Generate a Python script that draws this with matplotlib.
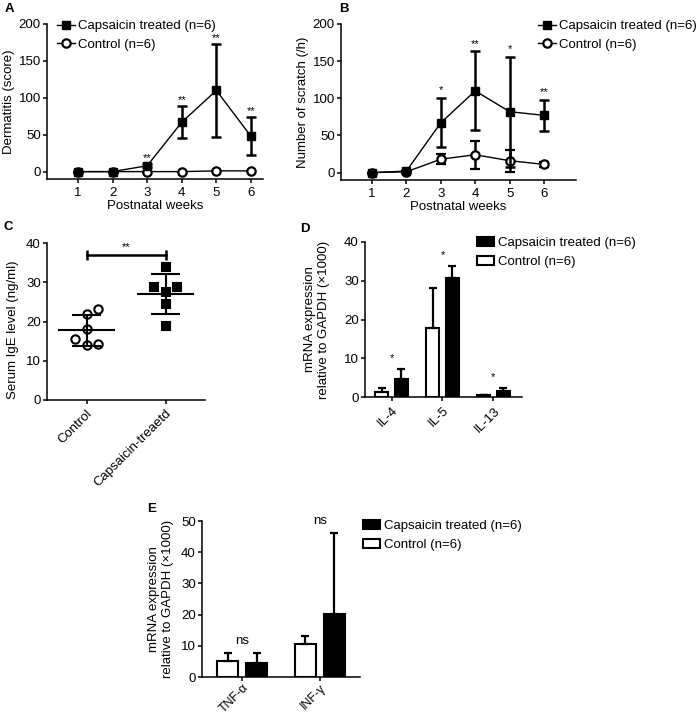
import numpy as np
import matplotlib
matplotlib.use("Agg")
import matplotlib.pyplot as plt
from matplotlib.patches import Patch
from matplotlib.lines import Line2D

plt.rcParams['font.family'] = ['Liberation Sans', 'DejaVu Sans']
plt.rcParams['font.size'] = 9.5
plt.rcParams['axes.linewidth'] = 1.1
plt.rcParams['xtick.major.width'] = 1.1
plt.rcParams['ytick.major.width'] = 1.1
plt.rcParams['xtick.major.size'] = 3
plt.rcParams['ytick.major.size'] = 3
plt.rcParams['xtick.major.pad'] = 2.5
plt.rcParams['ytick.major.pad'] = 1.5

# ---- data ----
weeks = [1, 2, 3, 4, 5, 6]

# A: dermatitis score
derm_cap = [0, 0, 8, 67, 110, 48]
derm_cap_err = [0, 0, 2, 22, 63, 26]
derm_ctrl = [0, 0, 0, 0, 1, 1]
derm_ctrl_err = [0, 0, 0, 0, 0, 0]
derm_stars = ["", "", "**", "**", "**", "**"]

# B: scratch number
scr_cap = [0, 2, 67, 110, 82, 77]
scr_cap_err = [0, 1, 33, 53, 74, 21]
scr_ctrl = [0, 1, 18, 24, 16, 11]
scr_ctrl_err = [0, 0.5, 6.5, 19, 15, 3.5]
scr_stars = ["", "", "*", "**", "*", "**"]

# C: serum IgE
ige_groups = ["Control", "Capsaicin-treaetd"]
ige_ctrl = [21.8, 23.3, 18.0, 15.5, 14.0, 14.2]
ige_cap = [33.8, 28.9, 28.9, 27.4, 24.4, 18.8]
ige_ctrl_jit = [0, 0.15, 0, -0.15, 0, 0.15]
ige_cap_jit = [0, -0.15, 0.15, 0, 0, 0]

# D: Th2 cytokines
th2_names = ["IL-4", "IL-5", "IL-13"]
th2_ctrl = [1.4, 17.9, 0.4]
th2_ctrl_sd = [0.9, 10.3, 0.1]
th2_cap = [4.6, 30.6, 1.6]
th2_cap_sd = [2.7, 3.2, 0.7]
th2_stars = ["*", "*", "*"]

# E: Th1 cytokines
th1_names = ["TNF-α", "INF-γ"]
th1_ctrl = [5.1, 10.5]
th1_ctrl_sd = [2.7, 2.6]
th1_cap = [4.5, 20.1]
th1_cap_sd = [3.3, 26.2]
th1_stars = ["ns", "ns"]

lab_cap = "Capsaicin treated (n=6)"
lab_ctrl = "Control (n=6)"

W, H = 699, 714
fig = plt.figure(figsize=(W / 100, H / 100), dpi=100)


def box(l, t, r, b):
    return [l / W, 1 - b / H, (r - l) / W, (b - t) / H]


def style(ax):
    ax.spines['top'].set_visible(False)
    ax.spines['right'].set_visible(False)


def line_panel(ax, cap, cap_err, ctrl, ctrl_err, stars, ylabel, xmax, star_off):
    ax.errorbar(weeks, ctrl, yerr=ctrl_err, color='black', lw=1.0, elinewidth=1.8,
                capsize=3.5, capthick=1.8, marker='o', ms=6, mfc='white', mew=1.6,
                zorder=2)
    ax.errorbar(weeks, cap, yerr=cap_err, color='black', lw=1.0, elinewidth=1.8,
                capsize=3.5, capthick=1.8, marker='s', ms=6, mfc='black',
                zorder=3)
    for x, y, e, s in zip(weeks, cap, cap_err, stars):
        if s:
            ax.annotate(s, (x, y + e), xytext=(0, star_off), textcoords='offset points',
                        ha='center', va='bottom', fontsize=8)
    ax.set_xlim(0.1, xmax)
    ax.set_ylim(-10, 200)
    ax.set_yticks([0, 50, 100, 150, 200])
    ax.set_xticks(weeks)
    ax.set_xlabel("Postnatal weeks", labelpad=1)
    ax.set_ylabel(ylabel)
    style(ax)


def line_legend(x, y):
    hs = [Line2D([], [], color='black', lw=1.0, marker='s', ms=6),
          Line2D([], [], color='black', lw=1.0, marker='o', ms=6, mfc='white', mew=1.6)]
    fig.legend(hs, [lab_cap, lab_ctrl], loc='upper left', bbox_to_anchor=(x / W, 1 - y / H),
               frameon=False, borderpad=0, borderaxespad=0, handlelength=1.4,
               handletextpad=0.2, labelspacing=0.5, fontsize=9.5)


# ---- A ----
axA = fig.add_axes(box(47, 24, 263, 179))
line_panel(axA, derm_cap, derm_cap_err, derm_ctrl, derm_ctrl_err, derm_stars,
           "Dermatitis (score)", 6.35, 0.5)
axA.yaxis.set_label_coords(-0.15, 0.5)
line_legend(57, 20)

# ---- B ----
axB = fig.add_axes(box(341, 24, 576, 180))
line_panel(axB, scr_cap, scr_cap_err, scr_ctrl, scr_ctrl_err, scr_stars,
           "Number of scratch (/h)", 6.93, 2)
axB.yaxis.set_label_coords(-0.135, 0.5)
line_legend(538, 20)

# ---- C ----
axC = fig.add_axes(box(47, 243, 205, 400))
for i, (vals, jit, mk, ms, fc) in enumerate([(ige_ctrl, ige_ctrl_jit, 'o', 6, 'white'),
                                              (ige_cap, ige_cap_jit, 's', 5.2, 'black')]):
    xs = i + np.array(jit)
    m = np.mean(vals)
    sd = np.std(vals, ddof=1)
    axC.plot(xs, vals, ls='none', marker=mk, ms=ms, mfc=fc, mec='black', mew=1.5, zorder=2)
    axC.hlines(m, i - 0.355, i + 0.355, color='black', lw=1.5, zorder=3)
    axC.vlines(i, m - sd, m + sd, color='black', lw=1.5, zorder=3)
    axC.hlines([m - sd, m + sd], i - 0.18, i + 0.18, color='black', lw=1.5, zorder=3)
bracket = 37
axC.plot([0, 1], [bracket, bracket], color='black', lw=1.8)
axC.vlines([0, 1], bracket - 1.3, bracket + 1.3, color='black', lw=1.8)
axC.text(0.5, bracket + 0.8, "**", ha='center', va='bottom', fontsize=8)
axC.set_xlim(-0.5, 1.5)
axC.set_ylim(0, 40)
axC.set_yticks([0, 10, 20, 30, 40])
axC.set_xticks([0, 1])
axC.set_xticklabels(ige_groups, rotation=45, ha='right', rotation_mode='anchor')
axC.set_ylabel("Serum IgE level (ng/ml)")
axC.yaxis.set_label_coords(-0.175, 0.45)
style(axC)


def bar_panel(ax, names, ctrl, ctrl_sd, cap, cap_sd, stars, off, wd, ylim, yticks):
    x = np.arange(len(names))
    ax.bar(x - off, ctrl, wd, color='white', edgecolor='black', lw=1.5,
           yerr=[np.zeros(len(ctrl)), ctrl_sd], capsize=3,
           error_kw=dict(elinewidth=1.6, capthick=1.6))
    ax.bar(x + off, cap, wd, color='black', edgecolor='black', lw=1.5,
           yerr=[np.zeros(len(cap)), cap_sd], capsize=3,
           error_kw=dict(elinewidth=1.6, capthick=1.6))
    top = np.maximum(np.array(ctrl) + ctrl_sd, np.array(cap) + cap_sd)
    for xi, t, s in zip(x, top, stars):
        ax.annotate(s, (xi, t), xytext=(0, 4), textcoords='offset points',
                    ha='center', va='bottom', fontsize=8 if s == "*" else 9.5)
    ax.set_xlim(-0.52, len(names) - 1 + 0.56)
    ax.set_ylim(*ylim)
    ax.set_yticks(yticks)
    ax.set_xticks(x)
    ax.set_xticklabels(names, rotation=45, ha='right', rotation_mode='anchor')
    ax.set_ylabel("mRNA expression\nrelative to GAPDH (×1000)", linespacing=1.15)
    style(ax)


def bar_legend(x, y):
    hs = [Patch(facecolor='black', edgecolor='black', lw=1.5),
          Patch(facecolor='white', edgecolor='black', lw=1.5)]
    fig.legend(hs, [lab_cap, lab_ctrl], loc='upper left', bbox_to_anchor=(x / W, 1 - y / H),
               frameon=False, borderpad=0, borderaxespad=0, handlelength=1.3,
               handleheight=0.7, handletextpad=0.3, labelspacing=0.5, fontsize=9.5)


# ---- D ----
axD = fig.add_axes(box(365, 242, 522, 397))
bar_panel(axD, th2_names, th2_ctrl, th2_ctrl_sd, th2_cap, th2_cap_sd, th2_stars,
          0.19, 0.26, (0, 40), [0, 10, 20, 30, 40])
axD.yaxis.set_label_coords(-0.225, 0.5)
bar_legend(477, 237)

# ---- E ----
axE = fig.add_axes(box(202, 521, 360, 677))
bar_panel(axE, th1_names, th1_ctrl, th1_ctrl_sd, th1_cap, th1_cap_sd, th1_stars,
          0.187, 0.267, (0, 50), [0, 10, 20, 30, 40, 50])
axE.set_xlim(-0.52, 1.52)
axE.tick_params(axis='x', pad=0.5, labelsize=9)
axE.yaxis.set_label_coords(-0.18, 0.5)
bar_legend(363, 520)

# panel letters
for s, x, y in [("A", 5, 3), ("B", 339, 3), ("C", 3, 221), ("D", 300, 223), ("E", 147, 503)]:
    fig.text(x / W, 1 - y / H, s, fontsize=9.5, fontweight='bold', va='top', ha='left')

fig.savefig("out.png", dpi=100)
